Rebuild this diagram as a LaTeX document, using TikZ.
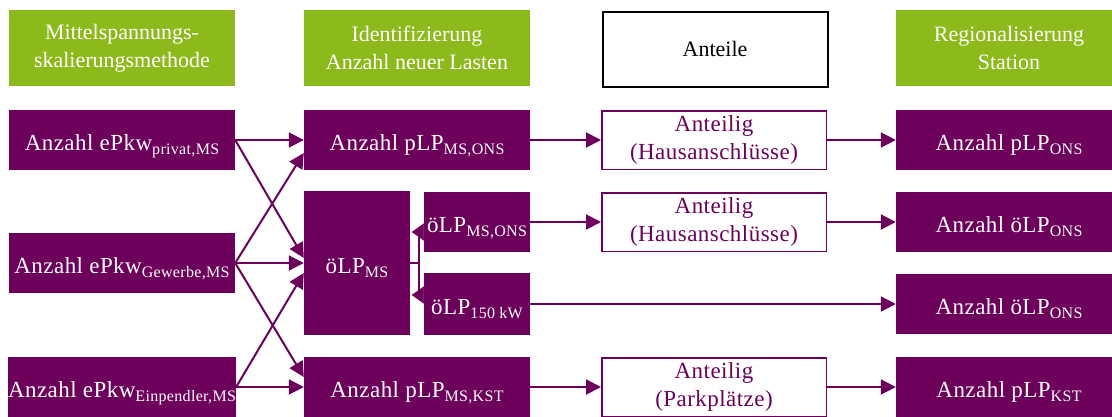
\documentclass[tikz,border=0pt]{standalone}
\usepackage{fontspec}
\setmainfont{Liberation Serif}
\usetikzlibrary{arrows.meta,calc}
\definecolor{vio}{RGB}{108,0,90}
\definecolor{grn}{RGB}{140,186,26}
\newcommand\lsub[1]{\raisebox{-4pt}{\fontsize{16}{16}\selectfont #1}}
\newcommand\bodyfont{\fontsize{23}{28}\selectfont\addfontfeatures{LetterSpace=2}}
\begin{document}
\begin{tikzpicture}[x=1pt,y=-1pt,
  box/.style={minimum width=226pt,minimum height=60pt,inner sep=0pt,align=center,font=\bodyfont},
  head/.style={box,minimum height=76pt,fill=grn,text=white,font=\fontsize{22}{28}\selectfont},
  dark/.style={box,fill=vio,text=white,text height=21pt,text depth=0pt},
  light/.style={box,draw=vio,line width=1.5pt,text=vio,minimum width=224.5pt,minimum height=58.5pt},
  conn/.style={draw=vio,line width=2pt,-{Triangle[length=15pt,width=15pt]}},
  tipa/.style={draw=vio,line width=0.5pt,-{Triangle[length=12pt,width=17pt]}},
  brk/.style={draw=vio,line width=1.8pt},
]
\useasboundingbox (0,0) rectangle (1112,416);
\clip (0,0) rectangle (1112,416);
% headers
\node[head] (h1) at (122,48) {Mittelspannungs-\\skalierungsmethode};
\node[head] (h2) at (417,48) {Identifizierung\\Anzahl neuer Lasten};
\node[box,draw=black,line width=2pt,minimum width=225pt,minimum height=75pt,font=\fontsize{22}{28}\selectfont] (h3) at (715,49) {Anteile};
\node[head] (h4) at (1009,48) {Regionalisierung\\Station};
% left column
\node[dark] (l1) at (122,140) {Anzahl ePkw\lsub{privat,MS}};
\node[dark] (l2) at (122,263) {Anzahl ePkw\lsub{Gewerbe,MS}};
\node[dark] (l3) at (122,387) {Anzahl ePkw\lsub{Einpendler,MS}};
% second column
\node[dark] (m1) at (417,140) {Anzahl pLP\lsub{MS,ONS}};
\node[dark,minimum width=106pt,minimum height=144pt] (ms) at (357,263) {öLP\lsub{MS}};
\node[dark,minimum width=106pt] (s1) at (477,222) {öLP\lsub{MS,ONS}};
\node[dark,minimum width=106pt,minimum height=62pt] (s2) at (477,304) {öLP\lsub{150 kW}};
\node[dark] (m4) at (417,387) {Anzahl pLP\lsub{MS,KST}};
% third column
\node[light] (a1) at (714,140) {Anteilig\\(Hausanschlüsse)};
\node[light] (a2) at (714,222) {Anteilig\\(Hausanschlüsse)};
\node[light] (a4) at (714,387) {Anteilig\\(Parkplätze)};
% fourth column
\node[dark] (r1) at (1009,140) {Anzahl pLP\lsub{ONS}};
\node[dark] (r2) at (1009,222) {Anzahl öLP\lsub{ONS}};
\node[dark] (r3) at (1009,304) {Anzahl öLP\lsub{ONS}};
\node[dark] (r4) at (1009,387) {Anzahl pLP\lsub{KST}};
% crossing connectors
\draw[conn] (l1.east) -- (m1.west);
\draw[conn] (l1.east) -- ($(ms.west)+(0,-5)$);
\draw[conn] (l2.east) -- ($(m1.west)+(0,13)$);
\draw[conn] (l2.east) -- (ms.west);
\draw[conn] (l2.east) -- ($(m4.west)+(0,-10)$);
\draw[conn] (l3.east) -- ($(ms.west)+(0,10)$);
\draw[conn] (l3.east) -- (m4.west);
% bracket
\draw[brk] (ms.east) -- ++(9,0) coordinate (br);
\draw[brk] ($(br)+(0,-26)$) -- ($(br)+(0,27)$);
\draw[tipa] ($(s1.west)+(0,10)$) -- ++(-12,0);
\draw[tipa] ($(s2.west)+(0,-9)$) -- ++(-12,0);
% right connectors
\draw[conn] (m1.east) -- (a1.west);
\draw[conn] (a1.east) -- (r1.west);
\draw[conn] (s1.east) -- (a2.west);
\draw[conn] (a2.east) -- (r2.west);
\draw[conn] (s2.east) -- (r3.west);
\draw[conn] (m4.east) -- (a4.west);
\draw[conn] (a4.east) -- (r4.west);
\end{tikzpicture}
\end{document}
